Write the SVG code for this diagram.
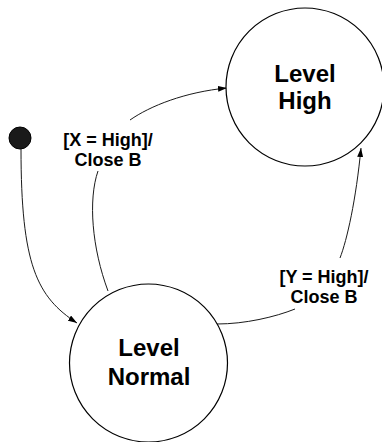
<svg xmlns="http://www.w3.org/2000/svg" width="382" height="442" viewBox="0 0 382 442">
  <style>
    .state { fill: #ffffff; stroke: #000000; stroke-width: 1.2; }
    .start { fill: #1a1a1a; stroke: #000000; stroke-width: 1; }
    .edge { fill: none; stroke: #1a1a1a; stroke-width: 1; }
    .name { font-family: "Liberation Sans", Arial, sans-serif; font-weight: bold; font-size: 24px; fill: #000000; text-anchor: middle; }
    .label { font-family: "Liberation Sans", Arial, sans-serif; font-weight: bold; font-size: 18px; fill: #000000; text-anchor: middle; }
  </style>
  <defs>
    <marker id="arrow" markerWidth="9" markerHeight="6" refX="9" refY="3" orient="auto" markerUnits="userSpaceOnUse">
      <path d="M0,0 L9,3 L0,6 z" fill="#000000"/>
    </marker>
  </defs>
  <rect width="382" height="442" fill="#ffffff"/>

  <g id="connectors">
    <path class="edge" d="M21,149 C 21,265 37,297 77,323" marker-end="url(#arrow)"/>
    <path class="edge" d="M108,291 C 92,248 88,200 98,171"/>
    <path class="edge" d="M130,120 C 150,106 185,92 227,88" marker-end="url(#arrow)"/>
    <path class="edge" d="M217,324 C 245,324 275,317 295,309"/>
    <path class="edge" d="M340,258 C 347,240 356,200 361,148" marker-end="url(#arrow)"/>
  </g>

  <g id="start">
    <circle class="start" cx="20" cy="138" r="11"/>
  </g>

  <g id="level-high">
    <circle class="state" cx="305" cy="87" r="79"/>
    <text class="name" x="305" y="82">Level</text>
    <text class="name" x="305" y="109">High</text>
  </g>

  <g id="level-normal">
    <circle class="state" cx="148.5" cy="363" r="79"/>
    <text class="name" x="149" y="356">Level</text>
    <text class="name" x="149" y="385">Normal</text>
  </g>

  <g id="label-x">
    <text class="label" x="108" y="146">[X = High]/</text>
    <text class="label" x="108" y="166">Close B</text>
  </g>

  <g id="label-y">
    <text class="label" x="324" y="283">[Y = High]/</text>
    <text class="label" x="324" y="303">Close B</text>
  </g>
</svg>
